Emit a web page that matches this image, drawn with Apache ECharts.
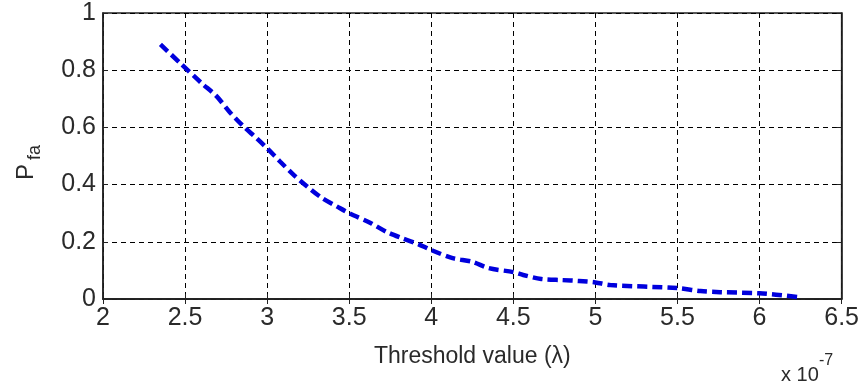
<!DOCTYPE html>
<html>
<head>
<meta charset="utf-8">
<script src="https://cdn.jsdelivr.net/npm/echarts@6/dist/echarts.min.js"></script>
<style>
html,body{margin:0;padding:0;background:#fff;}
#c{width:862px;height:389px;}
</style>
</head>
<body>
<div id="c"></div>
<script>
// Threshold value (x 1e-7)
var thresholds = [2.35, 2.47, 2.6, 2.69, 2.77, 2.85, 2.94, 3.0, 3.08, 3.16, 3.24, 3.33, 3.43, 3.5, 3.63, 3.73, 3.82, 3.92, 4.0, 4.13, 4.25, 4.35, 4.5, 4.56, 4.67, 4.80, 4.9, 5.0, 5.09, 5.5, 5.64, 5.76, 6.0, 6.23];
// Probability of false alarm
var pfa = [0.89, 0.825, 0.755, 0.71, 0.655, 0.607, 0.56, 0.527, 0.48, 0.435, 0.395, 0.355, 0.322, 0.30, 0.266, 0.234, 0.213, 0.192, 0.171, 0.143, 0.13, 0.108, 0.094, 0.084, 0.07, 0.066, 0.063, 0.058, 0.049, 0.038, 0.028, 0.024, 0.02, 0.007];
var xTicks = [2, 2.5, 3, 3.5, 4, 4.5, 5, 5.5, 6, 6.5];
var yTicks = [0, 0.2, 0.4, 0.6, 0.8, 1];
var xLabel = 'Threshold value (λ)';

var FONT = "'Liberation Sans', Arial, sans-serif";
var chart = echarts.init(document.getElementById('c'), null, {renderer: 'canvas'});
var data = thresholds.map(function (t, i) { return [t, pfa[i]]; });
var gridStyle = {show: true, lineStyle: {color: '#000', width: 1, type: [5, 4]}};
chart.setOption({
  animation: false,
  backgroundColor: '#fff',
  grid: {left: 103, right: 20, top: 13, bottom: 90, show: true, borderColor: '#222', borderWidth: 1.5, backgroundColor: 'transparent'},
  xAxis: [{
    type: 'value', min: xTicks[0], max: xTicks[xTicks.length - 1], interval: 0.5,
    name: xLabel, nameLocation: 'middle', nameGap: 46,
    nameTextStyle: {fontFamily: FONT, fontSize: 23, color: '#2a2a2a'},
    axisLine: {show: true, onZero: false, lineStyle: {color: '#222', width: 1.5}},
    axisTick: {show: true, inside: true, length: 5, lineStyle: {color: '#222'}},
    axisLabel: {fontFamily: FONT, fontSize: 25, color: '#2a2a2a', margin: 7},
    splitLine: gridStyle
  }, {
    type: 'value', position: 'top', min: xTicks[0], max: xTicks[xTicks.length - 1], interval: 0.5,
    axisLine: {show: true, lineStyle: {color: '#222', width: 1.5}},
    axisTick: {show: true, inside: true, length: 5, lineStyle: {color: '#222'}},
    axisLabel: {show: false}, splitLine: {show: false}
  }],
  yAxis: [{
    type: 'value', min: yTicks[0], max: yTicks[yTicks.length - 1], interval: 0.2,
    axisLine: {show: true, onZero: false, lineStyle: {color: '#222', width: 1.5}},
    axisTick: {show: true, inside: true, length: 5, lineStyle: {color: '#222'}},
    axisLabel: {fontFamily: FONT, fontSize: 25, color: '#2a2a2a', margin: 7},
    splitLine: gridStyle
  }, {
    type: 'value', position: 'right', min: yTicks[0], max: yTicks[yTicks.length - 1], interval: 0.2,
    axisLine: {show: true, lineStyle: {color: '#222', width: 1.5}},
    axisTick: {show: true, inside: true, length: 5, lineStyle: {color: '#222'}},
    axisLabel: {show: false}, splitLine: {show: false}
  }],
  series: [{
    type: 'line', data: data, showSymbol: false, smooth: 0.3,
    lineStyle: {color: '#0000dd', width: 4.5, type: [10, 5]}
  }],
  graphic: [
    {type: 'text', x: 14, y: 180, rotation: Math.PI / 2, style: {text: 'P', font: "24px " + FONT, fill: '#2a2a2a', textVerticalAlign: 'top'}},
    {type: 'text', x: 26, y: 160, rotation: Math.PI / 2, style: {text: 'fa', font: "18px " + FONT, fill: '#2a2a2a', textVerticalAlign: 'top'}},
    {type: 'text', x: 781, y: 385, style: {text: 'x 10', font: "20px " + FONT, fill: '#2a2a2a', textVerticalAlign: 'bottom'}},
    {type: 'text', x: 819, y: 369, style: {text: '-7', font: "16px " + FONT, fill: '#2a2a2a', textVerticalAlign: 'bottom'}}
  ]
});
</script>
</body>
</html>
